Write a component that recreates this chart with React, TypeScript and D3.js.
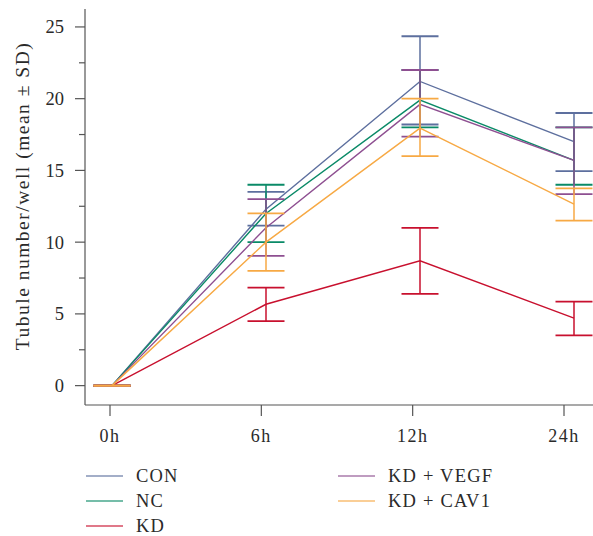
import React, { useEffect, useRef } from 'react';
import * as d3 from 'd3';

const categories = ['0h', '6h', '12h', '24h'];
const seriesNames = ['CON', 'NC', 'KD', 'KD + VEGF', 'KD + CAV1'];
const seriesColors = ['#5d6f9e', '#0a8a67', '#c8102e', '#8e4f91', '#f7a944'];

// mean values
const conMean = [0, 12.3, 21.2, 17.0];
const ncMean = [0, 12.0, 19.9, 15.7];
const kdMean = [0, 5.67, 8.7, 4.7];
const vegfMean = [0, 11.0, 19.6, 15.7];
const cav1Mean = [0, 10.0, 17.95, 12.65];

// error bar ends (mean ± SD)
const conUpper = [0, 13.5, 24.35, 19.0];
const ncUpper = [0, 14.0, 22.0, 18.0];
const kdUpper = [0, 6.83, 11.0, 5.85];
const vegfUpper = [0, 13.0, 22.0, 18.0];
const cav1Upper = [0, 12.0, 20.0, 13.75];

const conLower = [0, 11.15, 18.2, 14.95];
const ncLower = [0, 10.0, 18.0, 14.0];
const kdLower = [0, 4.5, 6.4, 3.5];
const vegfLower = [0, 9.05, 17.35, 13.35];
const cav1Lower = [0, 8.0, 16.0, 11.5];

const yTicks = [0, 5, 10, 15, 20, 25];
const yMinorTicks = [2.5, 7.5, 12.5, 17.5, 22.5];

const App: React.FC = () => {
  const chartRef = useRef<SVGSVGElement | null>(null);

  useEffect(() => {
    drawGraph();
  }, []);

  const drawGraph = () => {
    const width = 593;
    const height = 536;
    const font = '"Liberation Serif", "DejaVu Serif", serif';
    const axisColor = '#555';
    const textColor = '#2a2a2a';

    const svg = d3.select(chartRef.current);
    svg.selectAll('*').remove();
    svg.attr('width', width).attr('height', height);

    const means = [conMean, ncMean, kdMean, vegfMean, cav1Mean];
    const uppers = [conUpper, ncUpper, kdUpper, vegfUpper, cav1Upper];
    const lowers = [conLower, ncLower, kdLower, vegfLower, cav1Lower];

    const data = seriesNames.map((name, i) => ({
      name,
      color: seriesColors[i],
      points: categories.map((c, j) => ({ label: c, mean: means[i][j], upper: uppers[i][j], lower: lowers[i][j] })),
    }));

    const axisX = 85;
    const axisY = 405;
    const yScale = d3.scaleLinear().domain([-1.35, 26.25]).range([axisY, 9]);
    const xTick = d3.scalePoint<string>().domain(categories).range([110, 564]);
    const xData = d3.scalePoint<string>().domain(categories).range([112, 574]);

    // y axis
    svg.append('line').attr('x1', axisX).attr('x2', axisX).attr('y1', 9).attr('y2', axisY)
      .attr('stroke', axisColor).attr('stroke-width', 1.2);
    yTicks.forEach((t) => {
      svg.append('line').attr('x1', axisX - 10).attr('x2', axisX).attr('y1', yScale(t)).attr('y2', yScale(t))
        .attr('stroke', axisColor).attr('stroke-width', 1.2);
      svg.append('text').attr('x', axisX - 21).attr('y', yScale(t)).attr('dy', '0.35em')
        .attr('text-anchor', 'end').attr('font-family', font).style('font-size', '18.5px').attr('fill', textColor)
        .text(t);
    });
    yMinorTicks.forEach((t) => {
      svg.append('line').attr('x1', axisX - 6).attr('x2', axisX).attr('y1', yScale(t)).attr('y2', yScale(t))
        .attr('stroke', axisColor).attr('stroke-width', 1.2);
    });
    svg.append('text')
      .attr('transform', `translate(29, 196) rotate(-90)`)
      .attr('text-anchor', 'middle').attr('font-family', font).style('font-size', '19.5px').attr('fill', textColor)
      .attr('letter-spacing', 1.5)
      .text('Tubule number/well (mean ± SD)');

    // x axis
    svg.append('line').attr('x1', axisX).attr('x2', width).attr('y1', axisY).attr('y2', axisY)
      .attr('stroke', axisColor).attr('stroke-width', 1.2);
    categories.forEach((c) => {
      const x = xTick(c)!;
      svg.append('line').attr('x1', x).attr('x2', x).attr('y1', axisY).attr('y2', axisY + 11)
        .attr('stroke', axisColor).attr('stroke-width', 1.2);
      svg.append('text').attr('x', x).attr('y', axisY + 37).attr('text-anchor', 'middle')
        .attr('font-family', font).style('font-size', '18px').attr('fill', textColor).attr('letter-spacing', 1.5)
        .text(c);
    });

    const line = d3.line<{ label: string; mean: number }>()
      .x((d) => xData(d.label)!)
      .y((d) => yScale(d.mean));

    const capHalf = 18.5;
    data.forEach((s) => {
      const g = svg.append('g');
      g.append('path').datum(s.points).attr('d', line).attr('fill', 'none')
        .attr('stroke', s.color).attr('stroke-width', 1.4);
      s.points.forEach((p) => {
        const x = xData(p.label)!;
        g.append('line').attr('x1', x).attr('x2', x).attr('y1', yScale(p.upper)).attr('y2', yScale(p.lower))
          .attr('stroke', s.color).attr('stroke-width', 1.5);
        [p.upper, p.lower].forEach((v) => {
          g.append('line').attr('x1', x - capHalf).attr('x2', x + capHalf).attr('y1', yScale(v)).attr('y2', yScale(v))
            .attr('stroke', s.color).attr('stroke-width', 1.8);
        });
      });
    });

    // legend
    const legendPos = [
      { x: 86, y: 476 }, { x: 86, y: 501 }, { x: 86, y: 526 },
      { x: 338, y: 476 }, { x: 338, y: 501 },
    ];
    data.forEach((s, i) => {
      const p = legendPos[i];
      svg.append('line').attr('x1', p.x).attr('x2', p.x + 37).attr('y1', p.y).attr('y2', p.y)
        .attr('stroke', s.color).attr('stroke-width', 1.6).attr('opacity', 0.75);
      svg.append('text').attr('x', p.x + 50).attr('y', p.y).attr('dy', '0.35em')
        .attr('font-family', font).style('font-size', '18.5px').attr('fill', textColor).attr('letter-spacing', 1.2)
        .text(s.name);
    });
  };

  return <svg ref={chartRef} style={{ position: 'absolute', left: 0, top: 0 }}></svg>;
};

export default App;
